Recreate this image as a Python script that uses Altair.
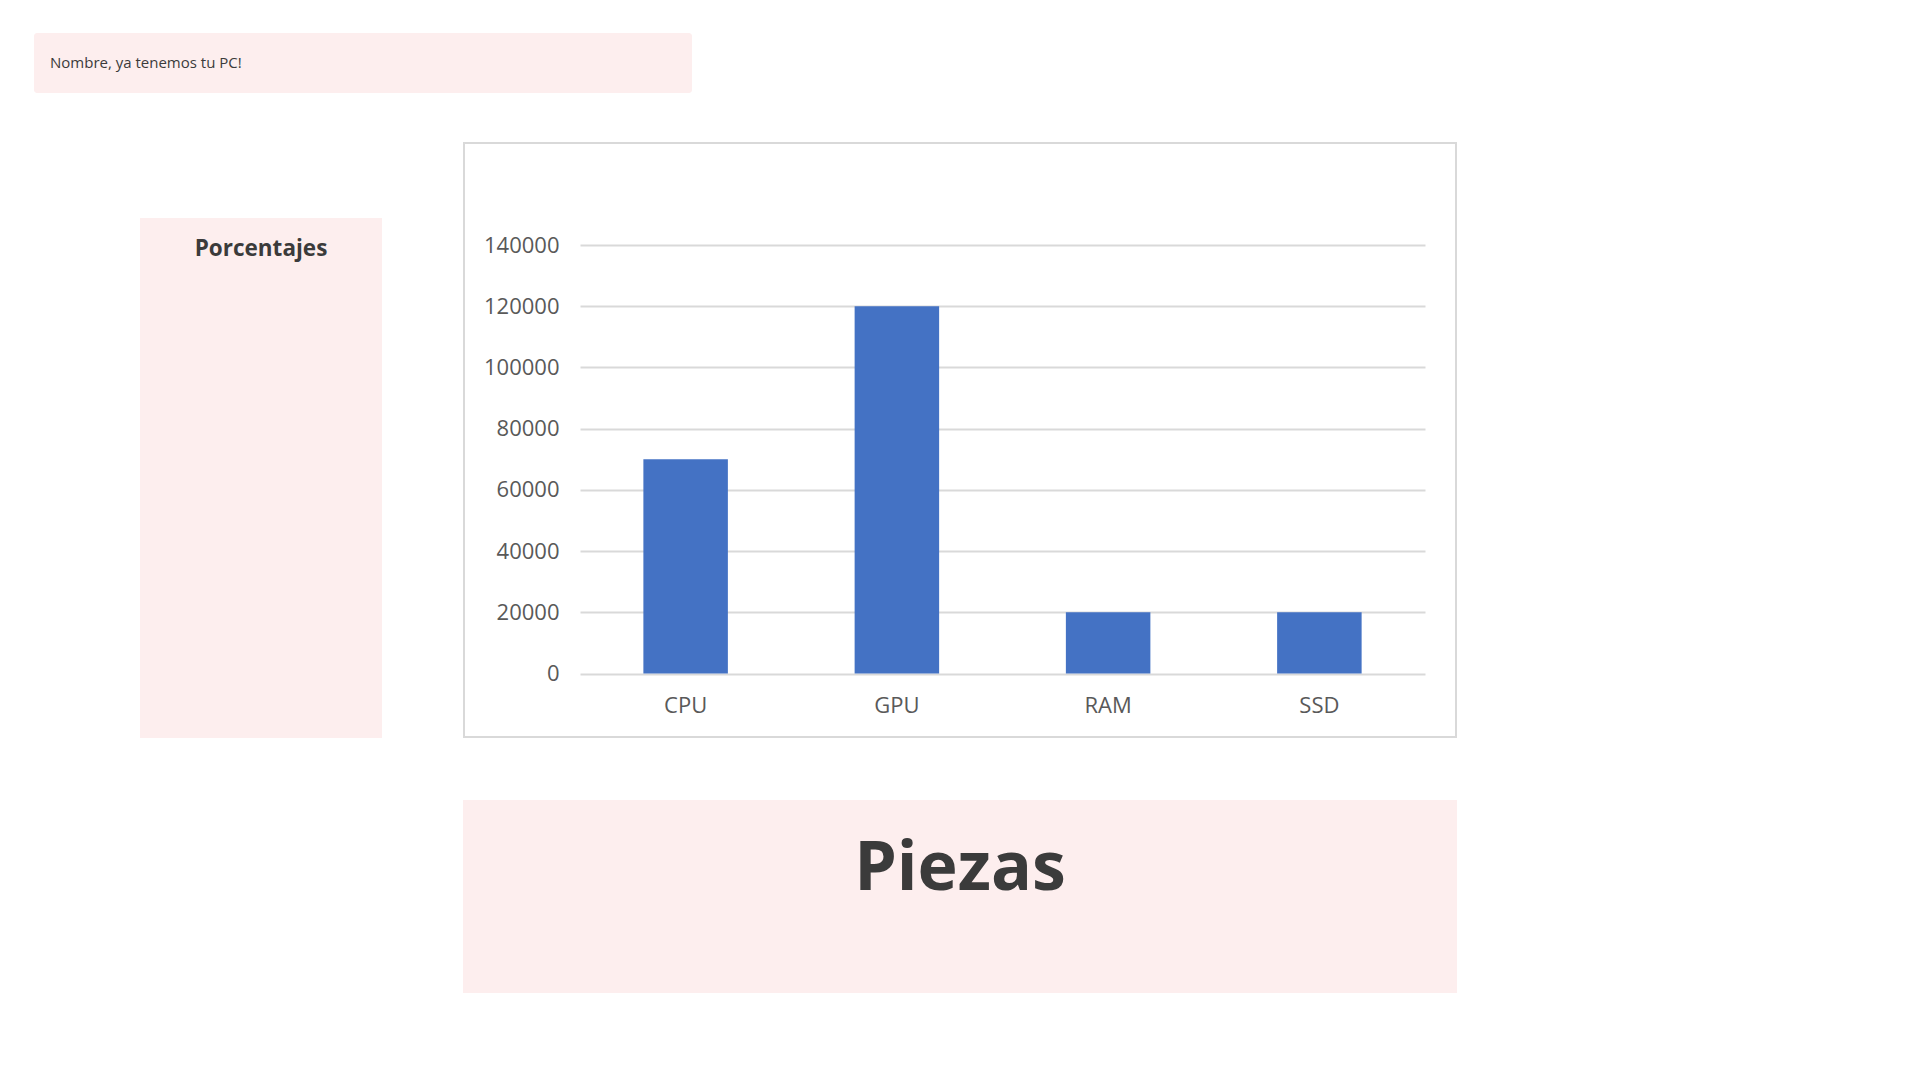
import altair as alt
import pandas as pd

# ---- data ----
piezas = ["CPU", "GPU", "RAM", "SSD"]
valores = [70000, 120000, 20000, 20000]
y_ticks = [0, 20000, 40000, 60000, 80000, 100000, 120000, 140000]

df = pd.DataFrame({"pieza": piezas, "valor": valores})
one = pd.DataFrame({"k": [0]})

FONT = "Open Sans"
PINK = "#FDEEEE"
TEXT = "#3B3B3B"

# plot area in page pixels: x 580..1425, y 245..673.5
PL, PT = 580, 245
PW, PH = 845, 428.5

def bx(v):
    return v - PL

def by(v):
    return v - PT

def box(x0, y0, x1, y1, **kw):
    return alt.Chart(one).mark_rect(**kw).encode(
        x=alt.value(bx(x0)), x2=alt.value(bx(x1)),
        y=alt.value(by(y0)), y2=alt.value(by(y1)))

def label(txt, x, y, **kw):
    return alt.Chart(pd.DataFrame({"t": [txt]})).mark_text(**kw).encode(
        x=alt.value(bx(x)), y=alt.value(by(y)), text="t:N")

top_box = box(34, 33, 692, 93, color=PINK, cornerRadius=3)
left_box = box(140, 218, 382, 738, color=PINK)
bottom_box = box(463, 800, 1457, 993, color=PINK)
chart_border = box(464, 143, 1456, 737, fill="transparent", stroke="#D9D9D9", strokeWidth=2)

t_top = label("Nombre, ya tenemos tu PC!", 50, 63, align="left", baseline="middle",
              font=FONT, fontSize=15, color=TEXT)
t_left = label("Porcentajes", 261, 249, align="center", baseline="middle",
               font=FONT, fontSize=22.5, fontWeight="bold", color=TEXT)
t_bottom = label("Piezas", 960, 890, align="center", baseline="alphabetic",
                 font=FONT, fontSize=68, fontWeight="bold", color=TEXT)

bars = alt.Chart(df).mark_bar(color="#4472C4").encode(
    x=alt.X("pieza:N", sort=piezas, title=None,
            scale=alt.Scale(paddingInner=0.6, paddingOuter=0.3),
            axis=alt.Axis(labelAngle=0, labelFont=FONT, labelFontSize=22,
                          labelColor="#595959", ticks=False, tickSize=0,
                          domain=False, grid=False, labelPadding=22)),
    y=alt.Y("valor:Q", title=None,
            scale=alt.Scale(domain=[0, 140000], nice=False),
            axis=alt.Axis(values=y_ticks, format="d", labelFont=FONT, labelFontSize=22,
                          labelColor="#595959", ticks=False, tickSize=0,
                          domain=False, grid=True, gridColor="#D9D9D9",
                          gridWidth=2, labelPadding=21)),
)

chart = alt.layer(
    chart_border, top_box, left_box, bottom_box,
    t_top, t_left, t_bottom, bars
).properties(
    width=PW, height=PH,
    padding={"left": PL, "top": PT, "right": 1920 - PL - PW, "bottom": 1080 - PT - PH},
    autosize=alt.AutoSizeParams(type="none"),
    background="white",
).configure_view(strokeWidth=0)

chart.save("out.html", embed_options={"renderer": "svg", "actions": False})
